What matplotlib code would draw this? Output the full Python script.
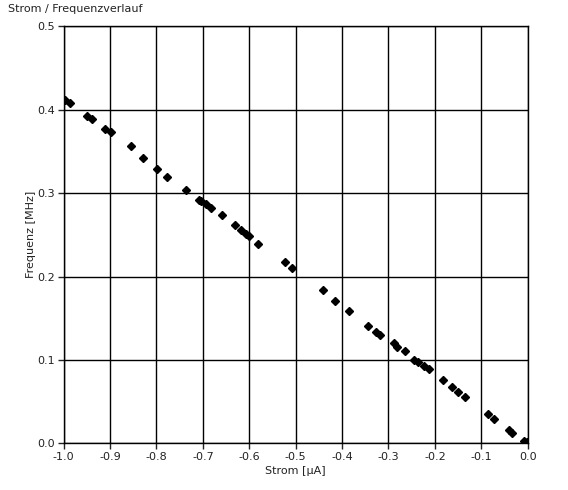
import matplotlib
matplotlib.use("Agg")
import matplotlib.pyplot as plt

# Strom [uA] und Frequenz [MHz]
strom = [-0.997, -0.987, -0.950, -0.940, -0.911, -0.899, -0.855, -0.829, -0.799, -0.777,
         -0.736, -0.709, -0.703, -0.694, -0.682, -0.659, -0.631, -0.618, -0.606, -0.601,
         -0.582, -0.524, -0.507, -0.442, -0.415, -0.386, -0.345, -0.326, -0.319, -0.289,
         -0.282, -0.265, -0.244, -0.237, -0.224, -0.213, -0.183, -0.164, -0.150, -0.135,
         -0.086, -0.073, -0.040, -0.034, -0.007, -0.002]
frequenz = [0.412, 0.408, 0.393, 0.389, 0.377, 0.373, 0.356, 0.342, 0.329, 0.319,
            0.304, 0.292, 0.290, 0.287, 0.282, 0.274, 0.262, 0.256, 0.251, 0.249,
            0.239, 0.217, 0.210, 0.184, 0.171, 0.159, 0.141, 0.133, 0.130, 0.120,
            0.116, 0.111, 0.100, 0.097, 0.093, 0.089, 0.076, 0.067, 0.062, 0.056,
            0.035, 0.029, 0.016, 0.012, 0.003, 0.001]

xticks = [-1.0, -0.9, -0.8, -0.7, -0.6, -0.5, -0.4, -0.3, -0.2, -0.1, 0.0]
yticks = [0.0, 0.1, 0.2, 0.3, 0.4, 0.5]

fig = plt.figure(figsize=(5.68, 4.90), dpi=100)
ax = fig.add_axes([0.1121, 0.0953, 0.8169, 0.851])

ax.plot(strom, frequenz, linestyle="none", marker="D", markersize=3.6,
        color="black", zorder=3)

ax.set_xlim(-1.0, 0.0)
ax.set_ylim(0.0, 0.5)
ax.set_xticks(xticks)
ax.set_yticks(yticks)
ax.set_xticklabels(["%.1f" % v for v in xticks])
ax.set_yticklabels(["%.1f" % v for v in yticks])
ax.grid(True, color="black", linewidth=1.0)
ax.set_axisbelow(True)
for s in ax.spines.values():
    s.set_color("black")
    s.set_linewidth(1.0)
ax.tick_params(direction="out", length=4, width=1, labelsize=8, colors="#222222",
               pad=2)

ax.set_xlabel("Strom [µA]", fontsize=8, color="#222222", labelpad=3)
ax.set_ylabel("Frequenz [MHz]", fontsize=8, color="#222222", labelpad=1)
fig.text(0.014, 0.992, "Strom / Frequenzverlauf", fontsize=8, color="#222222",
         ha="left", va="top")

fig.savefig("out.png", dpi=100)
